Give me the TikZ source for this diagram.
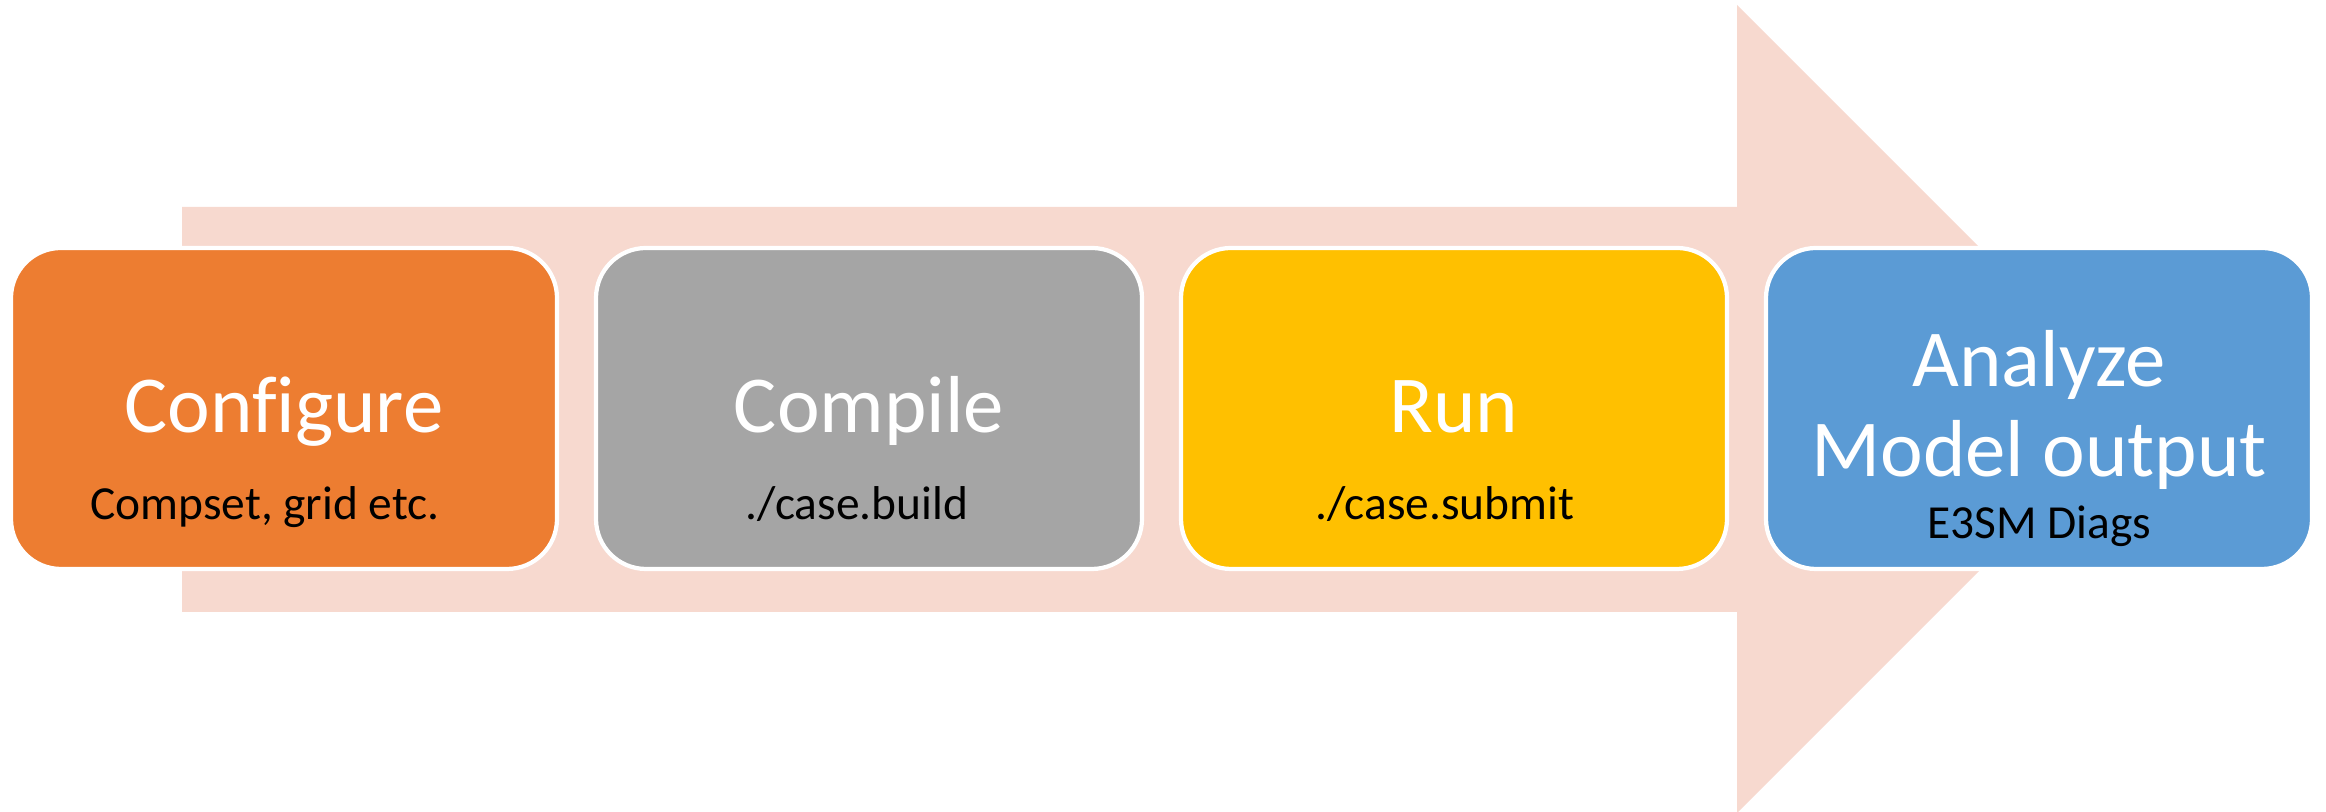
\documentclass[tikz,border=0pt]{standalone}
\usepackage{fontspec}
\setmainfont[Ligatures=NoCommon]{Carlito}
\usepackage{tikz}
\usetikzlibrary{positioning}

\definecolor{shaftpink}{RGB}{247,217,207}
\definecolor{cfgorange}{RGB}{237,125,49}
\definecolor{cmpgray}{RGB}{165,165,165}
\definecolor{runyellow}{RGB}{255,192,0}
\definecolor{anablue}{RGB}{91,155,213}

\begin{document}
\begin{tikzpicture}[
  stagebox/.style={draw=white, line width=1.2pt, rounded corners=0.5cm,
    minimum width=5.46cm, minimum height=3.21cm, inner sep=0pt, outer sep=0pt},
  title/.style={text=white, font=\fontsize{23}{27}\selectfont, inner sep=0pt, anchor=base},
  subtitle/.style={text=black, font=\fontsize{13.5}{16}\selectfont, inner sep=0pt, anchor=base}
]
\useasboundingbox (0,0) rectangle (23.26,8.12);

% big arrow behind the stages
\fill[shaftpink] (1.82,2.00) -- (17.37,2.00) -- (17.37,-0.01) -- (21.41,4.03)
  -- (17.37,8.07) -- (17.37,6.05) -- (1.82,6.05) -- cycle;

% the four stages
\node[stagebox, fill=cfgorange] (configure) at (2.84,4.035) {};
\node[stagebox, fill=cmpgray, right=0.39cm of configure] (compile) {};
\node[stagebox, fill=runyellow, right=0.39cm of compile] (run) {};
\node[stagebox, fill=anablue, right=0.39cm of run] (analyze) {};

\node[title] (configuretitle) at ([yshift=-0.24cm]configure.center) {Configure};
\node[subtitle] (configuresub) at ([xshift=-0.19cm,yshift=-1.11cm]configure.center) {Compset, grid etc.};

\node[title] (compiletitle) at ([yshift=-0.24cm]compile.center) {Compile};
\node[subtitle] (compilesub) at ([xshift=-0.12cm,yshift=-1.11cm]compile.center) {./case.build};

\node[title] (runtitle) at ([yshift=-0.24cm]run.center) {Run};
\node[subtitle] (runsub) at ([xshift=-0.09cm,yshift=-1.11cm]run.center) {./case.submit};

\node[title] (analyzetitle) at ([yshift=0.22cm]analyze.center) {Analyze};
\node[title] (modeltitle) at ([yshift=-0.68cm]analyze.center) {Model output};
\node[subtitle] (analyzesub) at ([yshift=-1.30cm]analyze.center) {E3SM Diags};
\end{tikzpicture}
\end{document}
